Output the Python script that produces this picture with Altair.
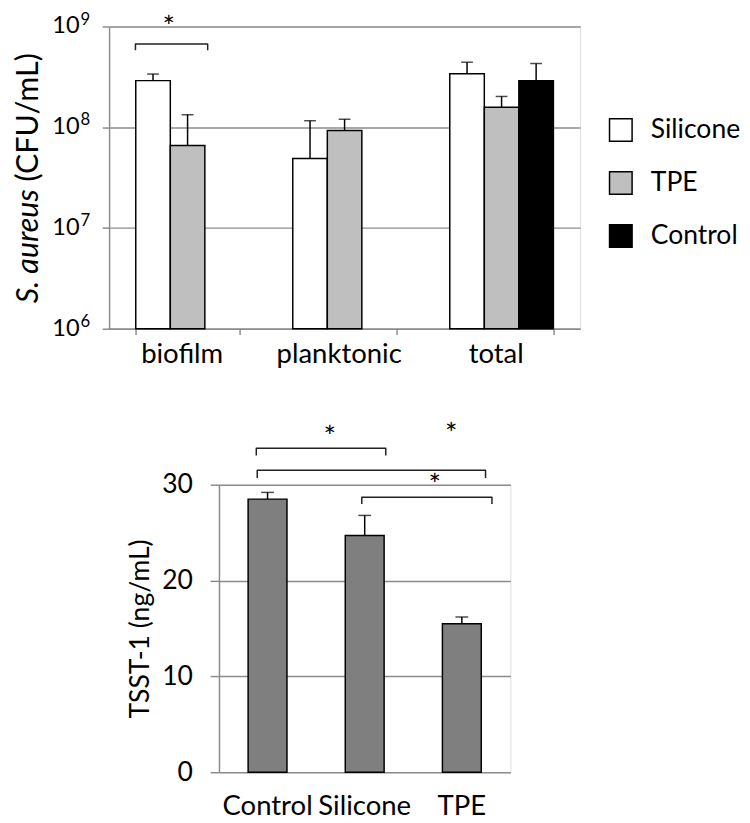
import altair as alt
import pandas as pd

FONT = "Lato"
GRID = "#8c8c8c"

# ---- top panel data ----
groups = ["biofilm", "planktonic", "total"]
materials = ["Silicone", "TPE", "Control"]
mat_colors = ["#ffffff", "#bfbfbf", "#000000"]
top_group = ["biofilm", "biofilm", "planktonic", "planktonic", "total", "total", "total"]
top_material = ["Silicone", "TPE", "Silicone", "TPE", "Silicone", "TPE", "Control"]
top_mean = [2.9e8, 6.6e7, 4.9e7, 9.3e7, 3.4e8, 1.58e8, 2.9e8]
top_hi = [3.37e8, 1.33e8, 1.16e8, 1.2e8, 4.42e8, 2.02e8, 4.29e8]
top_base = 1e6
top_ticks = [1e6, 1e7, 1e8, 1e9]
top_tick_base = ["10", "10", "10", "10"]
top_tick_exp = ["6", "7", "8", "9"]

# significance bracket (x in band units, y in data units)
top_br_x = [0.168, 0.168, 0.628, 0.628]
top_br_y = [5.8e8, 6.7e8, 6.7e8, 5.8e8]
top_star_x = [0.38]
top_star_y = [0.97e9]

# ---- bottom panel data ----
bot_cat = ["Control", "Silicone", "TPE"]
bot_mean = [28.5, 24.7, 15.5]
bot_hi = [29.2, 26.8, 16.2]
bot_br_id = [1] * 4 + [2] * 4 + [3] * 4
bot_br_ord = [0, 1, 2, 3] * 3
bot_br_x = [0.384, 0.384, 1.717, 1.717,
            0.394, 0.394, 2.744, 2.744,
            1.47, 1.47, 2.81, 2.81]
bot_br_y = [33.05, 33.8, 33.8, 33.05,
            30.7, 31.5, 31.5, 30.7,
            28.0, 28.7, 28.7, 28.0]
bot_star_x = [1.14, 2.39, 2.22]
bot_star_y = [34.9, 35.2, 29.9]

top_df = pd.DataFrame({"group": top_group, "material": top_material,
                       "mean": top_mean, "hi": top_hi, "base": top_base})
top_tick_df = pd.DataFrame({"v": top_ticks, "b": top_tick_base, "e": top_tick_exp})
top_br_df = pd.DataFrame({"bx": top_br_x, "by": top_br_y, "ord": range(4)})
top_star_df = pd.DataFrame({"sx": top_star_x, "sy": top_star_y})

bot_df = pd.DataFrame({"cat": bot_cat, "mean": bot_mean, "hi": bot_hi})
bot_br_df = pd.DataFrame({"id": bot_br_id, "ord": bot_br_ord, "bx": bot_br_x, "by": bot_br_y})
bot_star_df = pd.DataFrame({"sx": bot_star_x, "sy": bot_star_y})

TW, TH = 480, 308
BW, BH = 297, 293
FS = 28

# ---------------- top ----------------
xscale_top = alt.Scale(domain=groups, paddingInner=0.34, paddingOuter=0.17)
xoff = alt.XOffset("material:N", scale=alt.Scale(domain=materials, paddingInner=0, paddingOuter=0))
yscale_top = alt.Scale(type="log", domain=[1e6, 1e9], nice=False)

x_axis_top = alt.Axis(labelAngle=0, tickBand="extent", tickSize=6, tickColor=GRID, tickWidth=1.5,
                      domainColor=GRID, domainWidth=1.5, labelFontSize=FS, labelFont=FONT,
                      labelColor="black", labelPadding=6, labelOffset=-6, title=None, grid=False)
y_axis_top = alt.Axis(values=top_ticks, grid=True, gridColor=GRID, gridWidth=1.5,
                      tickColor=GRID, tickWidth=1.5, tickSize=7, domainColor=GRID, domainWidth=1.5,
                      labels=False, title=None)

bars = alt.Chart(top_df).mark_bar(stroke="black", strokeWidth=1.5).encode(
    x=alt.X("group:N", scale=xscale_top, axis=x_axis_top, sort=groups),
    xOffset=xoff,
    y=alt.Y("mean:Q", scale=yscale_top, axis=y_axis_top),
    y2="base:Q",
    fill=alt.Fill("material:N", scale=alt.Scale(domain=materials, range=mat_colors),
                  legend=alt.Legend(orient="none", legendX=508, legendY=92, title=None,
                                    symbolType="square", symbolSize=529, symbolStrokeColor="black",
                                    symbolStrokeWidth=1.5, labelFontSize=27, labelFont=FONT,
                                    labelColor="black", rowPadding=25, labelOffset=17, padding=0)),
)
err = alt.Chart(top_df).mark_rule(color="black", strokeWidth=1.5).encode(
    x=alt.X("group:N", scale=xscale_top, axis=None, sort=groups),
    xOffset=xoff,
    y=alt.Y("mean:Q", title=None),
    y2="hi:Q",
)
cap = alt.Chart(top_df).mark_tick(color="black", thickness=1.5, size=12).encode(
    x=alt.X("group:N", scale=xscale_top, axis=None, sort=groups),
    xOffset=xoff,
    y=alt.Y("hi:Q", title=None),
)
# y tick labels "10" with superscript exponent
lab_base = alt.Chart(top_tick_df).mark_text(align="right", baseline="middle", fontSize=24,
                                            font=FONT, color="black").encode(
    text="b:N", x=alt.value(-30), y=alt.Y("v:Q", title=None))
lab_exp = alt.Chart(top_tick_df).mark_text(align="left", baseline="alphabetic", fontSize=17,
                                           font=FONT, color="black", dx=1, dy=-2).encode(
    text="e:N", x=alt.value(-30), y=alt.Y("v:Q", title=None))

qx_top = alt.Scale(domain=[0, 3], nice=False, zero=False)
br_top = alt.Chart(top_br_df).mark_line(color="#222222", strokeWidth=1.5, strokeJoin="round").encode(
    x=alt.X("bx:Q", scale=qx_top, axis=None),
    y=alt.Y("by:Q", title=None),
    order="ord:Q",
)
star_top = alt.Chart(top_star_df).mark_text(text="*", fontSize=30, font=FONT, baseline="middle").encode(
    x=alt.X("sx:Q", scale=qx_top, axis=None),
    y=alt.Y("sy:Q", title=None),
)
ttl1 = alt.Chart(pd.DataFrame({"t": ["S. aureus"]})).mark_text(
    angle=270, align="right", baseline="middle", fontSize=31, font=FONT, fontStyle="italic"
).encode(text="t:N", x=alt.value(-81), y=alt.value(166))
ttl2 = alt.Chart(pd.DataFrame({"t": ["(CFU/mL)"]})).mark_text(
    angle=270, align="left", baseline="middle", fontSize=31, font=FONT
).encode(text="t:N", x=alt.value(-81), y=alt.value(158))

top = alt.layer(bars, err, cap, lab_base, lab_exp, br_top, star_top, ttl1, ttl2).resolve_scale(
    x="independent").properties(width=TW, height=TH)

# ---------------- bottom ----------------
xscale_bot = alt.Scale(domain=bot_cat, paddingInner=0.6, paddingOuter=0.3)
yscale_bot = alt.Scale(domain=[0, 30], nice=False)
x_axis_bot = alt.Axis(labelAngle=0, ticks=False, domain=False, labelFontSize=FS, labelFont=FONT,
                      labelColor="black", labelPadding=21, title=None, grid=False)
y_axis_bot = alt.Axis(values=[0, 10, 20, 30], grid=True, gridColor=GRID, gridWidth=1.5,
                      tickColor=GRID, tickWidth=1.5, tickSize=9, domainColor=GRID, domainWidth=1.5,
                      labelFontSize=27, labelFont=FONT, labelColor="black", labelPadding=18,
                      title="TSST-1 (ng/mL)", titleFontSize=27, titleFont=FONT, titleFontWeight="normal",
                      titleColor="black", titlePadding=7)

bbars = alt.Chart(bot_df).mark_bar(fill="#7f7f7f", stroke="black", strokeWidth=1.5).encode(
    x=alt.X("cat:N", scale=xscale_bot, axis=x_axis_bot, sort=bot_cat),
    y=alt.Y("mean:Q", scale=yscale_bot, axis=y_axis_bot),
)
berr = alt.Chart(bot_df).mark_rule(color="black", strokeWidth=1.5).encode(
    x=alt.X("cat:N", scale=xscale_bot, axis=None, sort=bot_cat),
    y="mean:Q", y2="hi:Q",
)
bcap = alt.Chart(bot_df).mark_tick(color="black", thickness=1.5, size=13).encode(
    x=alt.X("cat:N", scale=xscale_bot, axis=None, sort=bot_cat),
    y="hi:Q",
)
qx_bot = alt.Scale(domain=[0, 3], nice=False, zero=False)
bbr = alt.Chart(bot_br_df).mark_line(color="#222222", strokeWidth=1.5, strokeJoin="round").encode(
    x=alt.X("bx:Q", scale=qx_bot, axis=None),
    y=alt.Y("by:Q"),
    detail="id:N",
    order="ord:Q",
)
bstar = alt.Chart(bot_star_df).mark_text(text="*", fontSize=30, font=FONT, baseline="middle").encode(
    x=alt.X("sx:Q", scale=qx_bot, axis=None),
    y=alt.Y("sy:Q"),
)
bottom = alt.layer(bbars, berr, bcap, bbr, bstar).resolve_scale(x="independent").properties(
    width=BW, height=BH)

spacer = alt.Chart(pd.DataFrame({"v": [0]})).mark_point(size=0, opacity=0).properties(width=18, height=10)

chart = alt.vconcat(
    top,
    alt.hconcat(spacer, bottom, spacing=0),
    spacing=51,
).resolve_scale(x="independent", y="independent").resolve_legend(fill="independent").properties(
    padding={"left": 5, "top": -6, "right": 0, "bottom": 0}
).configure_view(stroke=None).configure(font=FONT)

chart.save("out.html", embed_options={"renderer": "svg", "actions": False})
